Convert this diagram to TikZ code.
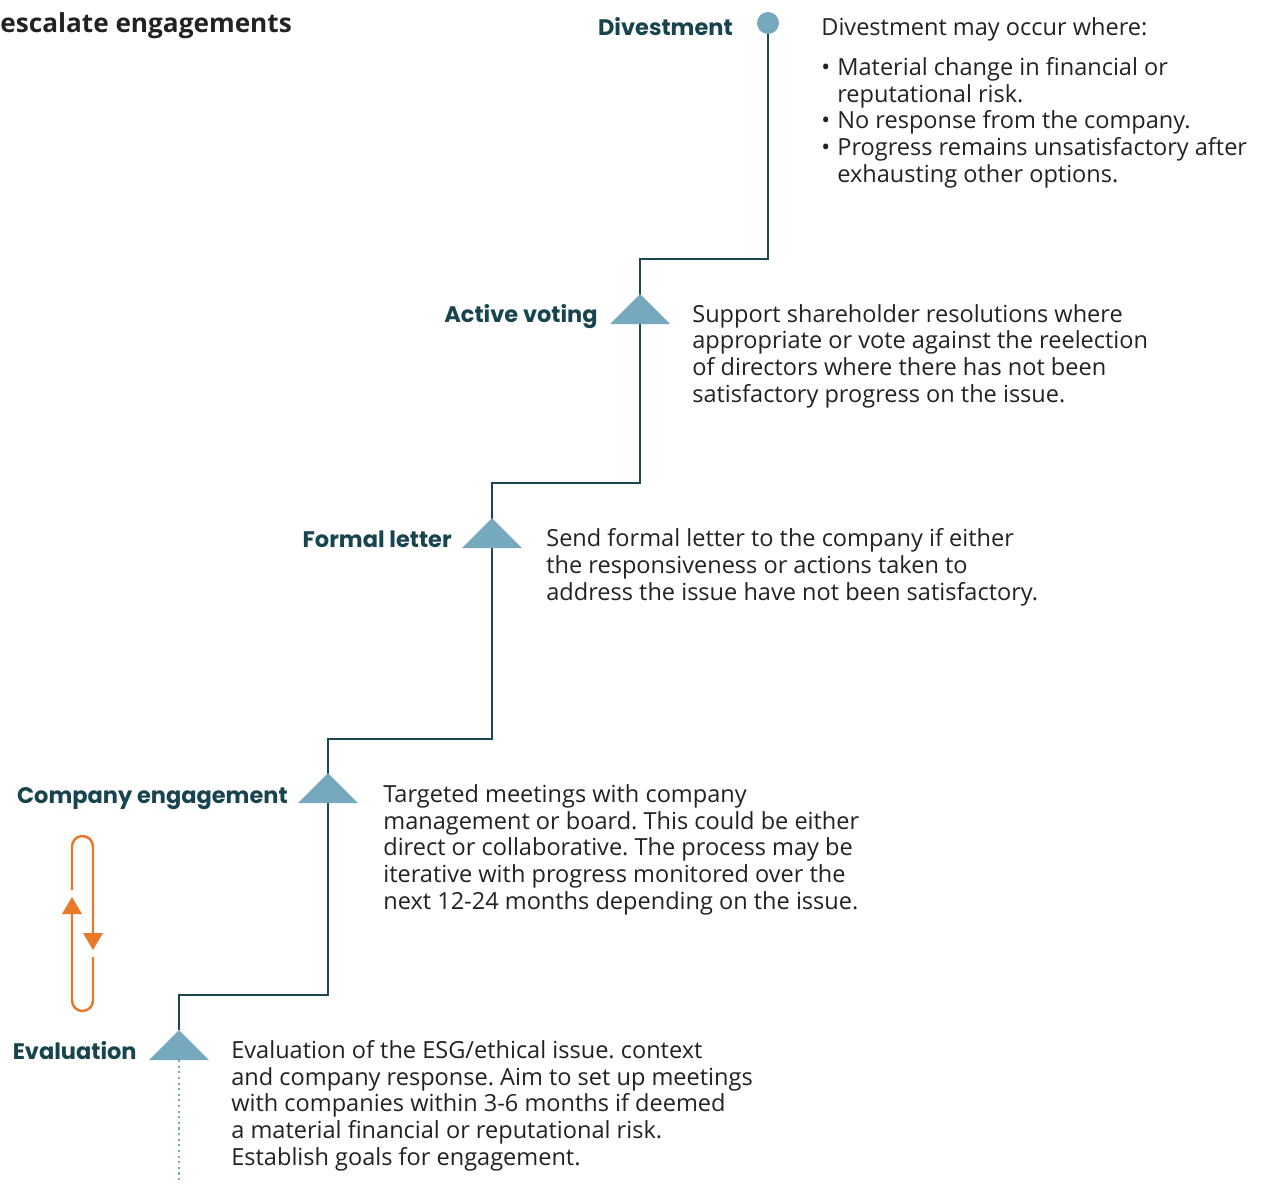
\documentclass[tikz,border=0pt]{standalone}
\usepackage{fontspec}
\setmainfont{Open Sans}
\newfontfamily\labelfont{Poppins}
\usetikzlibrary{positioning}
\frenchspacing

\definecolor{stairline}{HTML}{1D4753}
\definecolor{stepfill}{HTML}{76A9BD}
\definecolor{steptext}{HTML}{17444F}
\definecolor{loopcol}{HTML}{E8782A}
\definecolor{bodytext}{HTML}{222222}

\tikzset{
  steplabel/.style={anchor=base east, inner sep=0pt, text=steptext,
    font=\labelfont\bfseries\fontsize{12.8}{15}\selectfont},
  % base of a multi-line note is the baseline of its last line
  stepnote/.style={anchor=base west, inner sep=0pt, align=left, text=bodytext,
    font=\fontsize{13.4}{15.1}\selectfont},
  stair/.style={stairline, line width=1.5pt},
  loopline/.style={loopcol, line width=1.4pt, rounded corners=0.21cm},
}

\newcommand\stepmark[1]{\fill[stepfill] (#1) -- ++(-30,30) -- ++(60,0) -- cycle;}
\newcommand\bulitem{\makebox[0.32cm][l]{\textbullet}}

\begin{document}
\begin{tikzpicture}[x=0.02cm, y=-0.02cm]
  \useasboundingbox (0,0) rectangle (1267,1183);

  % title
  \node[anchor=base west, inner sep=0pt, text=bodytext,
    font=\bfseries\fontsize{14.9}{17}\selectfont] (title) at (0,32) {escalate engagements};

  % stair corners and steps
  \coordinate (dvc) at (768,23);
  \coordinate (c1) at (768,259);
  \coordinate (c2) at (640,259);
  \coordinate (av) at (640,294);
  \coordinate (c3) at (640,483);
  \coordinate (c4) at (492,483);
  \coordinate (fl) at (492,518);
  \coordinate (c5) at (492,739);
  \coordinate (c6) at (328,739);
  \coordinate (ce) at (328,773);
  \coordinate (c7) at (328,995);
  \coordinate (c8) at (179,995);
  \coordinate (ev) at (179,1030);
  \coordinate (evb) at (179,1060);
  \coordinate (evend) at (179,1183);

  \draw[stair] (dvc) -- (c1) -- (c2) -- (c3) -- (c4) -- (c5) -- (c6) -- (c7) -- (c8) -- (ev);
  \draw[stepfill, line width=1.2pt, dotted] (evb) -- (evend);

  \node[circle, fill=stepfill, inner sep=0pt, minimum size=0.44cm] (dv) at (dvc) {};
  \stepmark{av}
  \stepmark{fl}
  \stepmark{ce}
  \stepmark{ev}

  % step labels
  \node[steplabel] (dvlabel) at (733,35) {Divestment};
  \node[steplabel] (avlabel) at (598,322) {Active voting};
  \node[steplabel] (fllabel) at (452,547) {Formal letter};
  \node[steplabel] (celabel) at (288,803) {Company engagement};
  \node[steplabel] (evlabel) at (137,1059) {Evaluation};

  % step notes
  \node[stepnote] (dvnote) at (821,35) {Divestment may occur where:};
  \node[stepnote] (dvlist) at (821,182) {%
    \bulitem Material change in financial or\\
    \hspace*{0.32cm}reputational risk.\\
    \bulitem No response from the company.\\
    \bulitem Progress remains unsatisfactory after\\
    \hspace*{0.32cm}exhausting other options.};
  \node[stepnote] (avnote) at (692,402) {Support shareholder resolutions where\\
    appropriate or vote against the reelection\\
    of directors where there has not been\\
    satisfactory progress on the issue.};
  \node[stepnote] (flnote) at (546,600) {Send formal letter to the company if either\\
    the responsiveness or actions taken to\\
    address the issue have not been satisfactory.};
  \node[stepnote] (cenote) at (383,909) {Targeted meetings with company\\
    management or board. This could be either\\
    direct or collaborative. The process may be\\
    iterative with progress monitored over the\\
    next 12-24 months depending on the issue.};
  \node[stepnote] (evnote) at (231,1165) {Evaluation of the ESG/ethical issue. context\\
    and company response. Aim to set up meetings\\
    with companies within 3-6 months if deemed\\
    a material financial or reputational risk.\\
    Establish goals for engagement.};

  % iteration loop
  \coordinate (l1) at (72,890);
  \coordinate (l2) at (72,836);
  \coordinate (l3) at (93,836);
  \coordinate (l4) at (93,933);
  \coordinate (l5) at (93,957);
  \coordinate (l6) at (93,1011);
  \coordinate (l7) at (72,1011);
  \coordinate (l8) at (72,914);
  \draw[loopline] (l1) -- (l2) -- (l3) -- (l4);
  \draw[loopline] (l5) -- (l6) -- (l7) -- (l8);
  \fill[loopcol] (72,897) -- (62,914) -- (82,914) -- cycle;
  \fill[loopcol] (93,950) -- (83,933) -- (103,933) -- cycle;
\end{tikzpicture}
\end{document}
